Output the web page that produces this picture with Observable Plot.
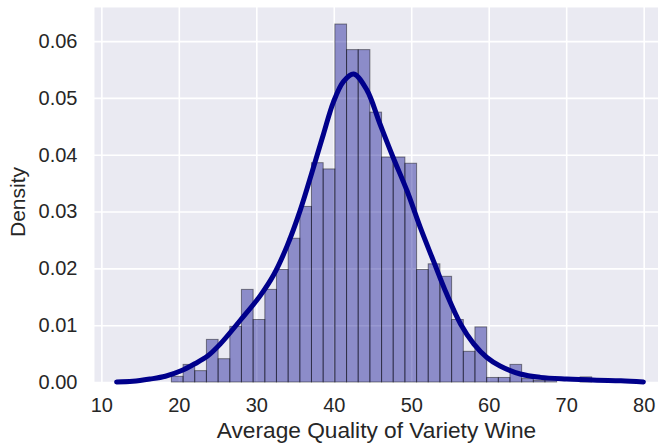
<!DOCTYPE html>
<html><head><meta charset="utf-8">
<script src="https://cdn.jsdelivr.net/npm/d3@7"></script>
<script src="https://cdn.jsdelivr.net/npm/@observablehq/plot@0.6"></script>
<style>html,body{margin:0;padding:0;background:#fff} svg{display:block}</style>
</head><body><div id="chart"></div>
<script>
const binEdges = [19.04, 20.55, 22.05, 23.56, 25.07, 26.58, 28.08, 29.59, 31.10, 32.60,
  34.11, 35.62, 37.12, 38.63, 40.14, 41.65, 43.15, 44.66, 46.17, 47.67,
  49.18, 50.69, 52.19, 53.70, 55.21, 56.72, 58.22, 59.73, 61.24, 62.74,
  64.25, 65.76, 67.26, 68.77, 70.28, 71.79, 73.29];
const binDensity = [0.0010, 0.0031, 0.0020, 0.0075, 0.0041, 0.0098, 0.0163, 0.0110, 0.0163, 0.0198,
  0.0253, 0.0309, 0.0386, 0.0375, 0.0630, 0.0585, 0.0585, 0.0475, 0.0396, 0.0396,
  0.0385, 0.0198, 0.0208, 0.0186, 0.0110, 0.0054, 0.0097, 0.0008, 0.0008, 0.0031,
  0.0006, 0.0003, 0.0003, 0.0000, 0.0000, 0.0009];
const kdeX = [11.9, 14.0, 16.2, 18.2, 20.3, 22.0, 23.6, 25.3, 27.9, 30.4, 32.2, 33.9, 35.6, 37.3,
  38.6, 39.9, 41.2, 42.5, 44.2, 45.9, 47.6, 49.4, 51.1, 52.8, 54.5, 56.3, 58.0, 59.7,
  61.4, 64.0, 66.6, 70.0, 73.9, 77.0, 79.9];
const kdeY = [0.0001, 0.0002, 0.0006, 0.0011, 0.0021, 0.0033, 0.0046, 0.0068, 0.0110, 0.0152, 0.0190, 0.0240, 0.0303, 0.0378,
  0.0437, 0.0494, 0.0530, 0.0543, 0.0515, 0.0455, 0.0396, 0.0337, 0.0273, 0.0214, 0.0156, 0.0103, 0.0068, 0.0044,
  0.0029, 0.0015, 0.0009, 0.0006, 0.0004, 0.0003, 0.0001];
const xTicks = [10, 20, 30, 40, 50, 60, 70, 80];
const yTicks = [0, 0.01, 0.02, 0.03, 0.04, 0.05, 0.06];
const xLabel = "Average Quality of Variety Wine";
const yLabel = "Density";

const bars = binDensity.map((d, i) => ({x1: binEdges[i], x2: binEdges[i + 1], y: d}));
const kde = kdeX.map((x, i) => ({x, y: kdeY[i]}));

const chart = Plot.plot({
  width: 658, height: 443,
  marginLeft: 94, marginRight: 0, marginTop: 7, marginBottom: 61,
  style: {fontFamily: "'Liberation Sans', Arial, sans-serif", background: "white", color: "#262626", overflow: "visible"},
  x: {domain: [9.05, 81.85]},
  y: {domain: [0, 0.066]},
  marks: [
    Plot.frame({fill: "#EAEAF2", stroke: null}),
    Plot.gridX(xTicks, {stroke: "white", strokeOpacity: 1, strokeWidth: 1.6}),
    Plot.gridY(yTicks, {stroke: "white", strokeOpacity: 1, strokeWidth: 1.6}),
    Plot.rectY(bars, {x1: "x1", x2: "x2", y: "y", fill: "#00008B", fillOpacity: 0.4, stroke: "black", strokeOpacity: 0.45, strokeWidth: 1}),
    Plot.line(kde, {x: "x", y: "y", stroke: "#00008B", strokeWidth: 5, curve: "catmull-rom", strokeLinejoin: "round"}),
    Plot.axisX(xTicks, {tickSize: 0, tickPadding: 15, fontSize: 20, label: null}),
    Plot.axisY(yTicks, {tickSize: 0, tickPadding: 17, fontSize: 20, tickFormat: d3.format(".2f"), label: null}),
    Plot.text([xLabel], {frameAnchor: "bottom", dy: 48, textAnchor: "middle", lineAnchor: "middle", fontSize: 22.7, fill: "#262626"}),
    Plot.text([yLabel], {frameAnchor: "left", dx: -76, dy: 7, rotate: -90, textAnchor: "middle", lineAnchor: "middle", fontSize: 21, fill: "#262626"})
  ]
});
document.getElementById("chart").appendChild(chart);
</script>
</body></html>
